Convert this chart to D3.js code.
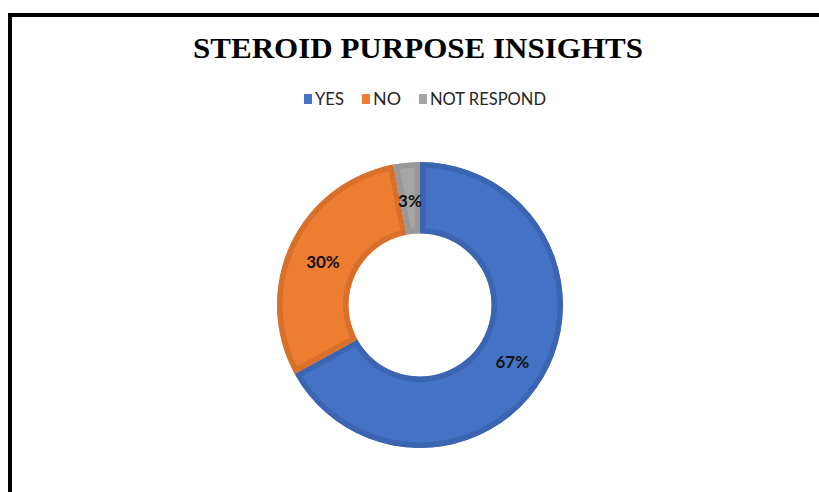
<!DOCTYPE html>
<html>
<head>
<meta charset="utf-8">
<script src="https://cdn.jsdelivr.net/npm/d3@7"></script>
<style>
  html, body { margin: 0; padding: 0; background: #ffffff; }
  svg { display: block; }
</style>
</head>
<body>
<svg id="chart" width="819" height="492"></svg>
<script>
// ---- data ----
const title = "STEROID PURPOSE INSIGHTS";
const categories = ["YES", "NO", "NOT RESPOND"];
const values = [67, 30, 3];
const labels = ["67%", "30%", "3%"];

// ---- styles ----
const fillColors = ["#4472C4", "#ED7D31", "#A5A5A5"];
const edgeColors = ["#3B65B0", "#D8702C", "#989898"];

const svg = d3.select("#chart");
const W = 819, H = 492;

// frame (clipped at right/bottom like the reference)
svg.append("rect")
  .attr("x", 10).attr("y", 15)
  .attr("width", W + 20).attr("height", H + 20)
  .attr("fill", "#fff")
  .attr("stroke", "#000").attr("stroke-width", 4);

// title
svg.append("text")
  .attr("x", 418).attr("y", 58)
  .attr("text-anchor", "middle")
  .attr("font-family", "'Liberation Serif', 'Times New Roman', serif")
  .attr("font-weight", "bold")
  .attr("font-size", 30)
  .attr("textLength", 450)
  .attr("lengthAdjust", "spacingAndGlyphs")
  .attr("fill", "#000")
  .text(title);

// legend
const legendTextLen = [29, 28, 116];
const sq = 8, sqGap = 3, itemGap = 18;
const widths = categories.map((c, i) => sq + sqGap + legendTextLen[i]);
const total = d3.sum(widths) + itemGap * (categories.length - 1);
let lx = 425 - total / 2;
const legend = svg.append("g");
categories.forEach((c, i) => {
  const g = legend.append("g").attr("transform", `translate(${lx},0)`);
  g.append("rect").attr("x", 0).attr("y", 94).attr("width", sq).attr("height", 10)
    .attr("fill", fillColors[i]);
  g.append("text")
    .attr("x", sq + sqGap).attr("y", 104.5)
    .attr("font-family", "Lato, 'Open Sans', sans-serif")
    .attr("font-size", 16.5)
    .attr("textLength", legendTextLen[i])
    .attr("lengthAdjust", "spacingAndGlyphs")
    .attr("fill", "#262626")
    .text(c);
  lx += widths[i] + itemGap;
});

// donut
const cx = 420, cy = 305, rOuter = 143, rInner = 71.5;
const pie = d3.pie().sort(null).value(d => d)(values);
const arc = d3.arc().innerRadius(rInner).outerRadius(rOuter);
const labelArc = d3.arc().innerRadius(rInner).outerRadius(rOuter);

const defs = svg.append("defs");
const gd = svg.append("g").attr("transform", `translate(${cx},${cy})`);
pie.forEach((p, i) => {
  defs.append("clipPath").attr("id", "clip" + i)
    .append("path").attr("d", arc(p));
  gd.append("path")
    .attr("d", arc(p))
    .attr("fill", fillColors[i])
    .attr("stroke", edgeColors[i])
    .attr("stroke-width", 11)
    .attr("stroke-linejoin", "miter")
    .attr("clip-path", `url(#clip${i})`);
});

// data labels
pie.forEach((p, i) => {
  const [x, y] = labelArc.centroid(p);
  gd.append("text")
    .attr("x", x).attr("y", y + 2)
    .attr("text-anchor", "middle")
    .attr("dominant-baseline", "central")
    .attr("font-family", "Lato, 'Open Sans', sans-serif")
    .attr("font-weight", "bold")
    .attr("font-size", 17)
    .attr("fill", "#111111")
    .text(labels[i]);
});
</script>
</body>
</html>
